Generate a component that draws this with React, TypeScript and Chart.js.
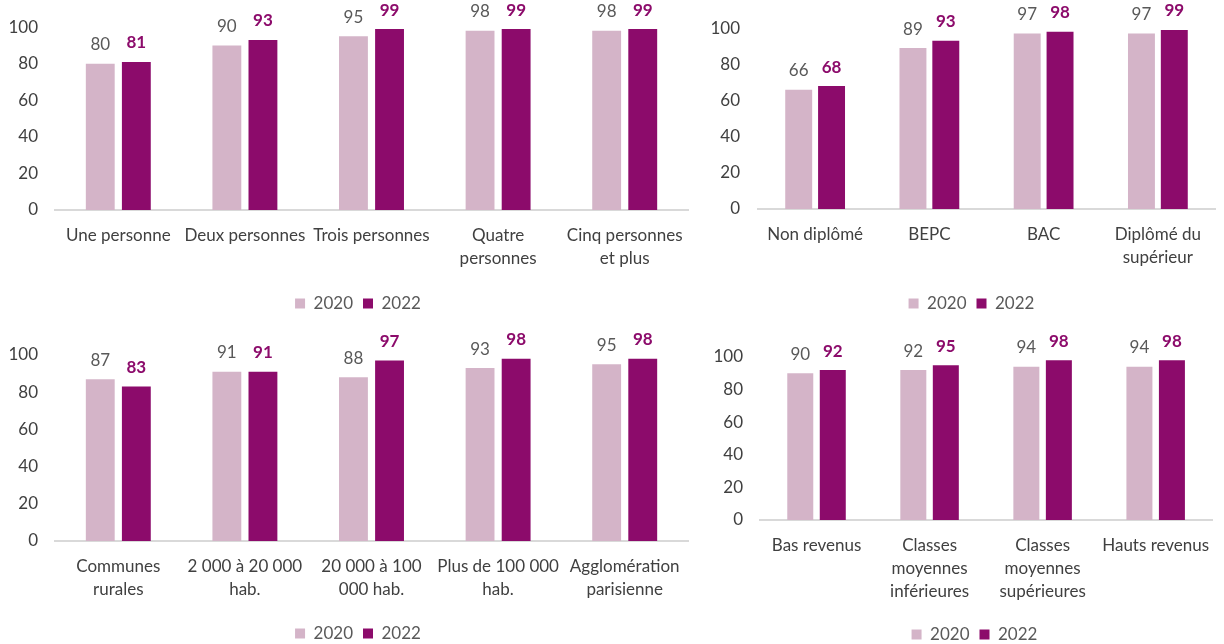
import React, { useEffect, useRef } from "react";
import { Chart, registerables } from "chart.js";

Chart.register(...registerables);

const seriesNames = ["2020", "2022"];
const yTicks = [0, 20, 40, 60, 80, 100];

const householdLabels = [["Une personne"], ["Deux personnes"], ["Trois personnes"], ["Quatre", "personnes"], ["Cinq personnes", "et plus"]];
const household2020 = [80, 90, 95, 98, 98];
const household2022 = [81, 93, 99, 99, 99];

const diplomaLabels = [["Non diplômé"], ["BEPC"], ["BAC"], ["Diplômé du", "supérieur"]];
const diploma2020 = [66, 89, 97, 97];
const diploma2022 = [68, 93, 98, 99];

const areaLabels = [["Communes", "rurales"], ["2 000 à 20 000", "hab."], ["20 000 à 100", "000 hab."], ["Plus de 100 000", "hab."], ["Agglomération", "parisienne"]];
const area2020 = [87, 91, 88, 93, 95];
const area2022 = [83, 91, 97, 98, 98];

const incomeLabels = [["Bas revenus"], ["Classes", "moyennes", "inférieures"], ["Classes", "moyennes", "supérieures"], ["Hauts revenus"]];
const income2020 = [90, 92, 94, 94];
const income2022 = [92, 95, 98, 98];

const COLOR_2020 = "#D4B4C8";
const COLOR_2022 = "#8C0B6B";
const FONT = "Lato, 'Liberation Sans', sans-serif";
const FONT_SIZE = 17;

const valueLabels = {
  id: "valueLabels",
  afterDatasetsDraw(chart: any) {
    const ctx = chart.ctx;
    ctx.save();
    ctx.textAlign = "center";
    ctx.textBaseline = "middle";
    chart.data.datasets.forEach((ds: any, i: number) => {
      const meta = chart.getDatasetMeta(i);
      ctx.fillStyle = i === 0 ? "#595959" : COLOR_2022;
      ctx.font = `${i === 0 ? "normal" : "bold"} ${FONT_SIZE}px ${FONT}`;
      meta.data.forEach((bar: any, j: number) => {
        ctx.fillText(String(ds.data[j]), bar.x, bar.y - 19);
      });
    });
    ctx.restore();
  },
};

type PanelProps = {
  labels: any[];
  a: number[];
  b: number[];
  left: number;
  top: number;
  width: number;
  height: number;
  yWidth: number;
  yPad: number;
  padRight: number;
  padTop: number;
  xHeight: number;
  catPct: number;
  barPct: number;
  legendShift: number;
};

function Panel(p: PanelProps) {
  const ref = useRef<HTMLCanvasElement>(null);
  useEffect(() => {
    if (!ref.current) return;
    const shiftLegend = {
      id: "shiftLegend",
      afterLayout(chart: any) {
        const lg = chart.legend;
        if (lg) {
          lg.left += p.legendShift;
          lg.right += p.legendShift;
        }
      },
    };
    const chart = new Chart(ref.current, {
      type: "bar",
      data: {
        labels: p.labels,
        datasets: [
          { label: seriesNames[0], data: p.a, backgroundColor: COLOR_2020, categoryPercentage: p.catPct, barPercentage: p.barPct },
          { label: seriesNames[1], data: p.b, backgroundColor: COLOR_2022, categoryPercentage: p.catPct, barPercentage: p.barPct },
        ],
      },
      options: {
        responsive: false,
        animation: false,
        devicePixelRatio: 1,
        layout: { padding: { top: p.padTop, right: p.padRight, left: 0, bottom: 0 } },
        plugins: {
          legend: {
            position: "bottom",
            labels: {
              boxWidth: 10,
              boxHeight: 10,
              padding: 10,
              color: "#595959",
              font: { family: FONT, size: FONT_SIZE },
            },
          },
          tooltip: { enabled: false },
        },
        scales: {
          x: {
            grid: { display: false, drawTicks: false },
            border: { display: true, color: "#D9D9D9", width: 2 },
            ticks: {
              color: "#404040",
              font: { family: FONT, size: FONT_SIZE, lineHeight: 1.35 },
              padding: 14,
              maxRotation: 0,
              autoSkip: false,
            },
            afterFit: (s: any) => {
              s.height = p.xHeight;
            },
          },
          y: {
            min: 0,
            max: 100,
            afterBuildTicks: (s: any) => {
              s.ticks = yTicks.map((v) => ({ value: v }));
            },
            grid: { display: false, drawTicks: false },
            border: { display: false },
            ticks: {
              color: "#404040",
              font: { family: FONT, size: FONT_SIZE },
              padding: p.yPad,
            },
            afterFit: (s: any) => {
              s.width = p.yWidth;
            },
          },
        },
      },
      plugins: [valueLabels, shiftLegend],
    });
    return () => chart.destroy();
  }, []);
  return (
    <div style={{ position: "absolute", left: p.left, top: p.top, width: p.width, height: p.height }}>
      <canvas ref={ref} width={p.width} height={p.height} style={{ width: p.width, height: p.height, display: "block" }} />
    </div>
  );
}

export default function App() {
  return (
    <div style={{ position: "fixed", left: 0, top: 0, width: 1224, height: 644, overflow: "hidden", background: "#fff" }}>
      <Panel labels={householdLabels} a={household2020} b={household2022} left={0} top={0} width={714} height={322} yWidth={55} yPad={17} padRight={26} padTop={22} xHeight={75} catPct={0.57} barPct={0.8} legendShift={14} />
      <Panel labels={diplomaLabels} a={diploma2020} b={diploma2022} left={700} top={0} width={524} height={322} yWidth={58} yPad={18} padRight={9} padTop={22} xHeight={76} catPct={0.575} barPct={0.82} legendShift={14} />
      <Panel labels={areaLabels} a={area2020} b={area2022} left={0} top={320} width={714} height={332} yWidth={55} yPad={17} padRight={26} padTop={35} xHeight={74} catPct={0.57} barPct={0.8} legendShift={14} />
      <Panel labels={incomeLabels} a={income2020} b={income2022} left={700} top={320} width={524} height={333} yWidth={60} yPad={17} padRight={7} padTop={37} xHeight={96} catPct={0.575} barPct={0.8} legendShift={16} />
    </div>
  );
}
